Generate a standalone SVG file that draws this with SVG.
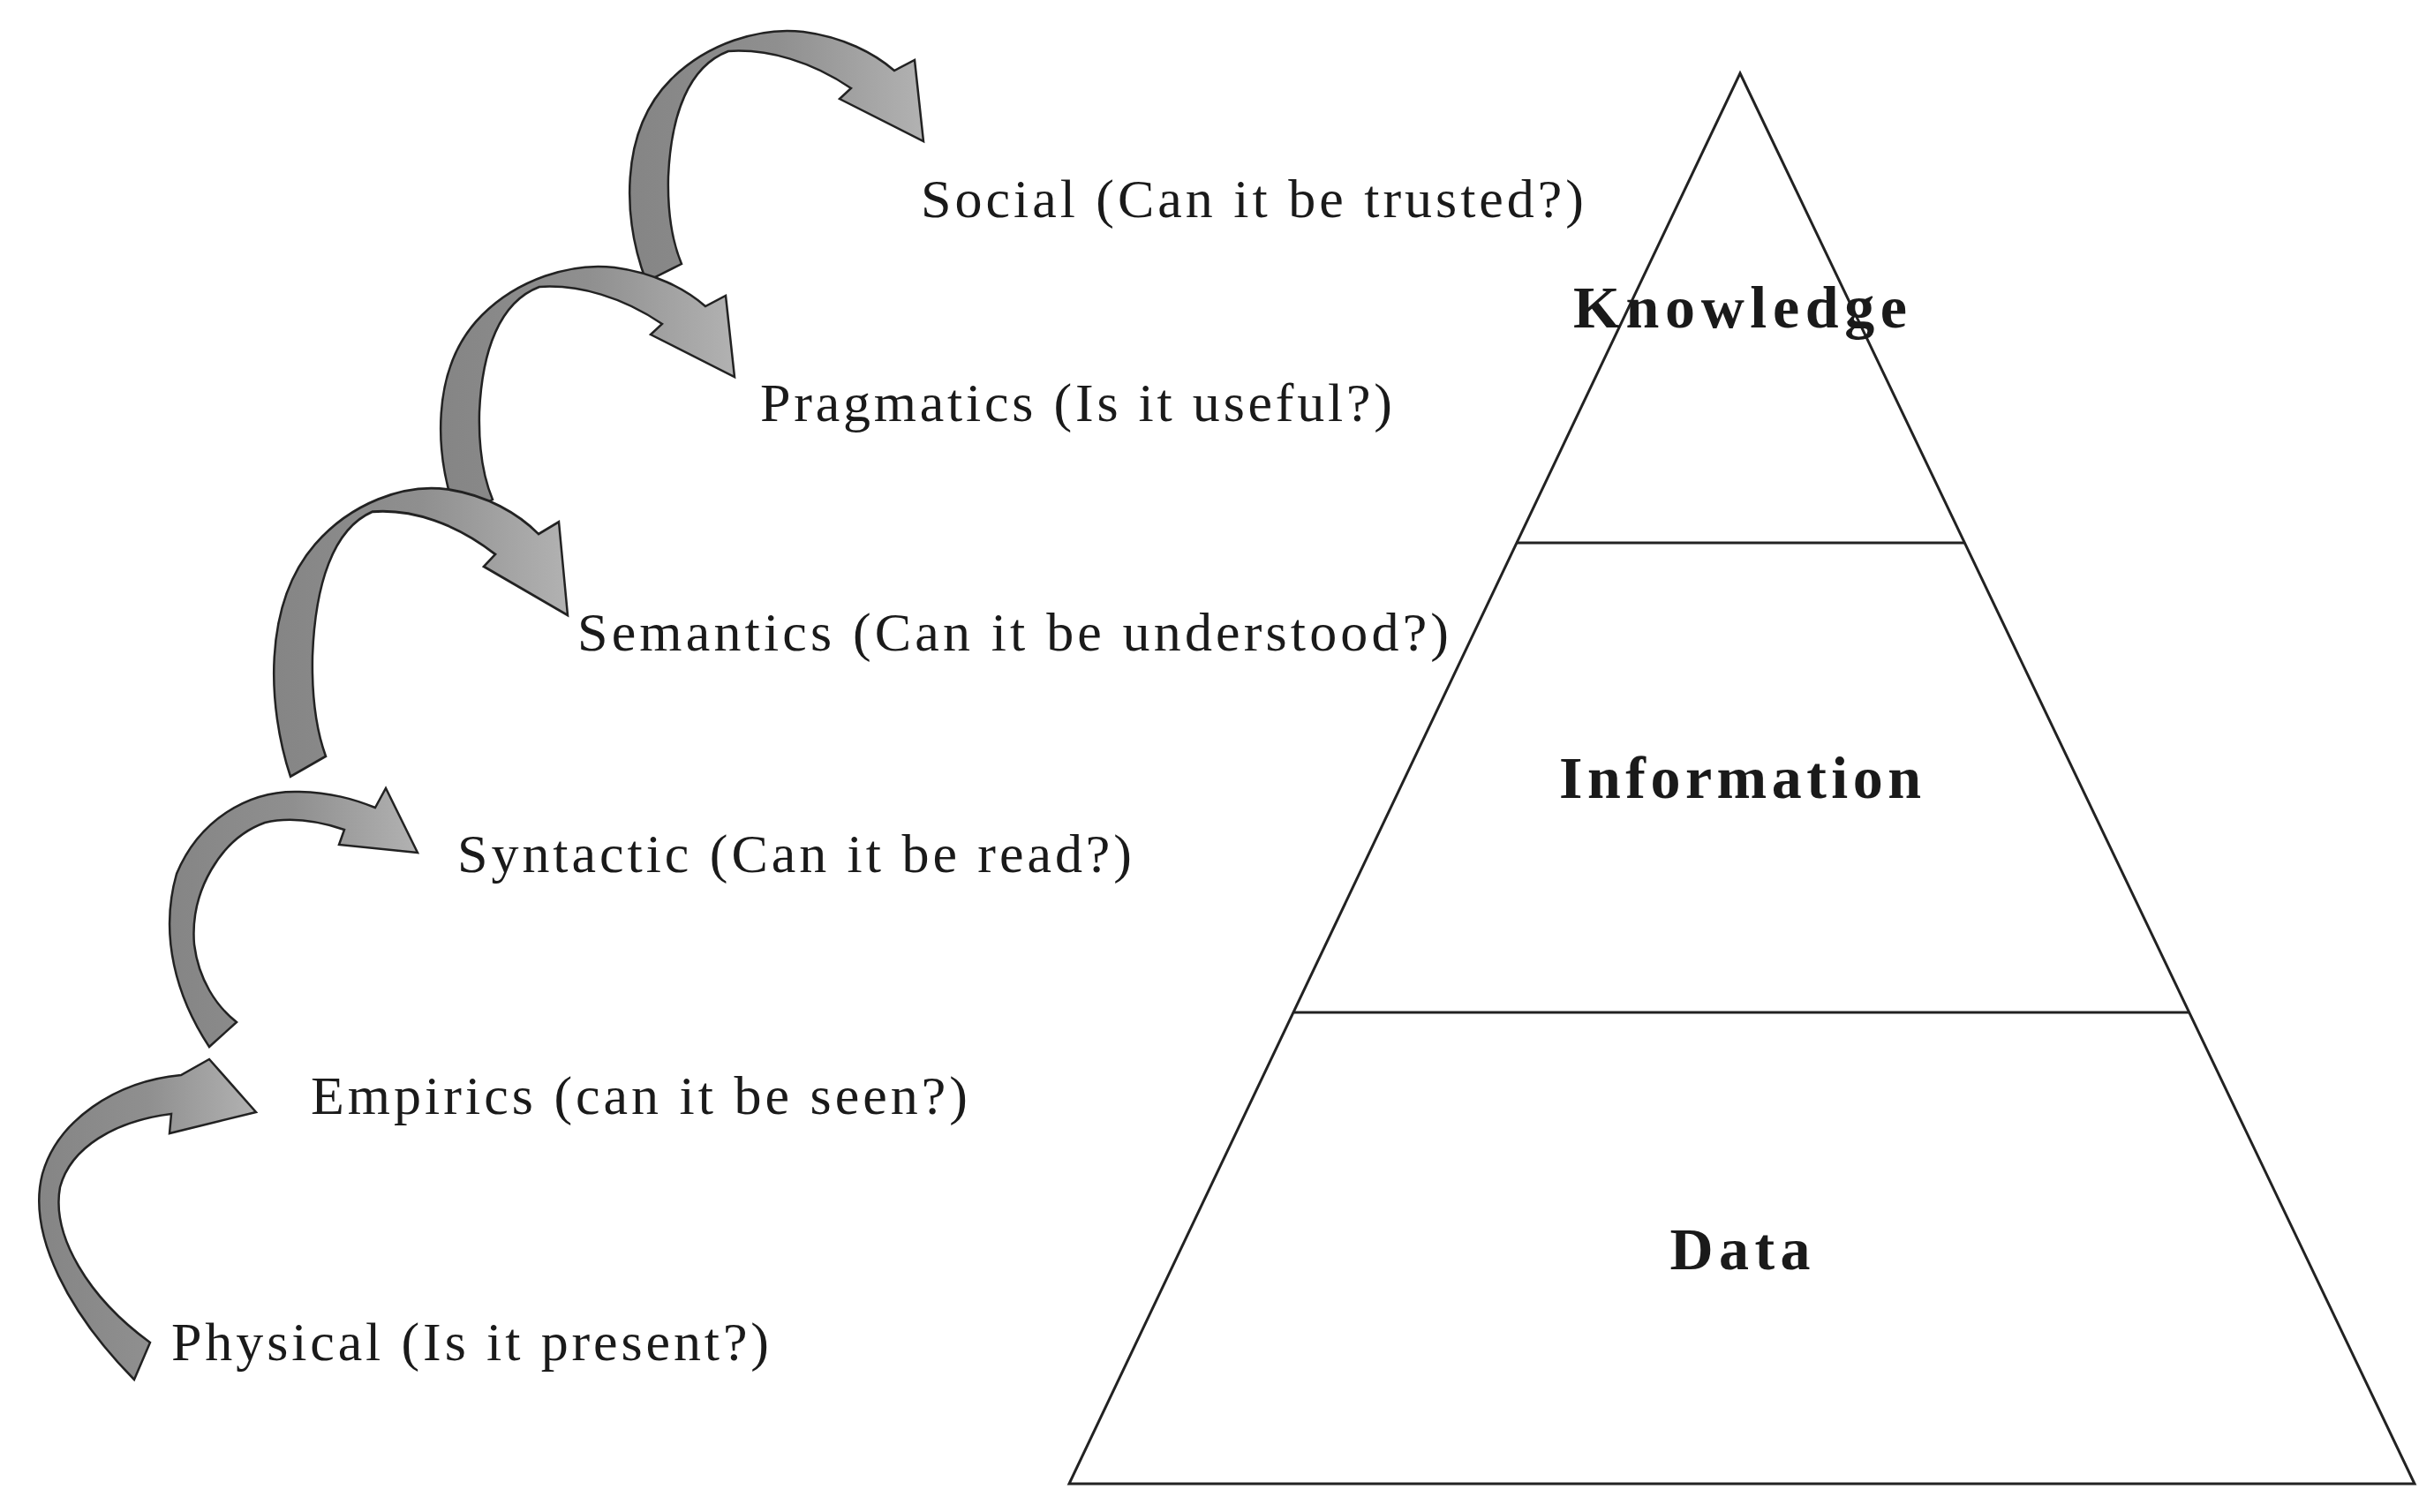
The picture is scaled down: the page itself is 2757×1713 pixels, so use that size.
<svg xmlns="http://www.w3.org/2000/svg" width="2757" height="1713" viewBox="0 0 2757 1713">
<defs>
<linearGradient id="g" x1="0" y1="0" x2="1" y2="0"><stop offset="0" stop-color="#858585"/><stop offset="0.5" stop-color="#8f8f8f"/><stop offset="1" stop-color="#b2b2b2"/></linearGradient>
<style>
.lbl{font-family:"Liberation Serif","Times New Roman",serif;font-size:62px;fill:#1a1a1a}
.lvl{font-family:"Liberation Serif","Times New Roman",serif;font-size:68px;font-weight:bold;fill:#1a1a1a;text-anchor:middle}
.arr{fill:url(#g);stroke:#222;stroke-width:2.5;stroke-linejoin:miter}
.ln{stroke:#222;stroke-width:3;fill:none}
</style>
<path id="a" d="M732,319 C 706,250 700,150 760,90 C 800,50 860,30 910,36 C 955,42 990,60 1013,80 L 1036,68 L 1046,160 L 951,112 L 964,100 C 920,70 870,55 825,58 C 780,75 760,130 757,200 C 756,240 762,275 772,299 Z"/>
</defs>
<rect width="2757" height="1713" fill="#fff"/>
<g id="connectors">
<use href="#a" class="arr"/>
<use href="#a" class="arr" transform="translate(-214,267)"/>
<use href="#a" class="arr" transform="translate(643,697) scale(1,1.15) translate(-1046,-160)"/>
<path class="arr" d="M237,1186 C 200,1130 180,1060 200,990 C 225,930 280,895 339,897 C 375,898 400,905 425,915 L 437,893 L 473,966 L 384,957 L 390,940 C 360,930 330,925 300,932 C 250,950 215,1010 220,1070 C 225,1110 245,1140 268,1158 Z"/>
<path class="arr" d="M152,1563 C 80,1490 30,1400 48,1330 C 65,1270 130,1225 205,1218 L 237,1200 L 290,1260 L 192,1284 L 194,1262 C 130,1270 80,1300 68,1345 C 58,1400 100,1470 170,1521 Z"/>
</g>
<g id="pyramid">
<path class="ln" d="M1971,83 L2735,1681 L1211,1681 Z"/>
<line class="ln" x1="1717" y1="615" x2="2225" y2="615"/>
<line class="ln" x1="1466" y1="1147" x2="2479" y2="1147"/>
</g>
<g id="knowledge"><text class="lvl" x="1971" y="371" textLength="378">Knowledge</text></g>
<g id="information"><text class="lvl" x="1971" y="904" textLength="410">Information</text></g>
<g id="data"><text class="lvl" x="1971" y="1438" textLength="159">Data</text></g>
<g id="social"><text class="lbl" x="1043" y="246" textLength="751">Social (Can it be trusted?)</text></g>
<g id="pragmatics"><text class="lbl" x="861" y="477" textLength="716">Pragmatics (Is it useful?)</text></g>
<g id="semantics"><text class="lbl" x="654" y="737" textLength="987">Semantics (Can it be understood?)</text></g>
<g id="syntactic"><text class="lbl" x="518" y="988" textLength="764">Syntactic (Can it be read?)</text></g>
<g id="empirics"><text class="lbl" x="352" y="1262" textLength="744">Empirics (can it be seen?)</text></g>
<g id="physical"><text class="lbl" x="194" y="1541" textLength="677">Physical (Is it present?)</text></g>
</svg>
